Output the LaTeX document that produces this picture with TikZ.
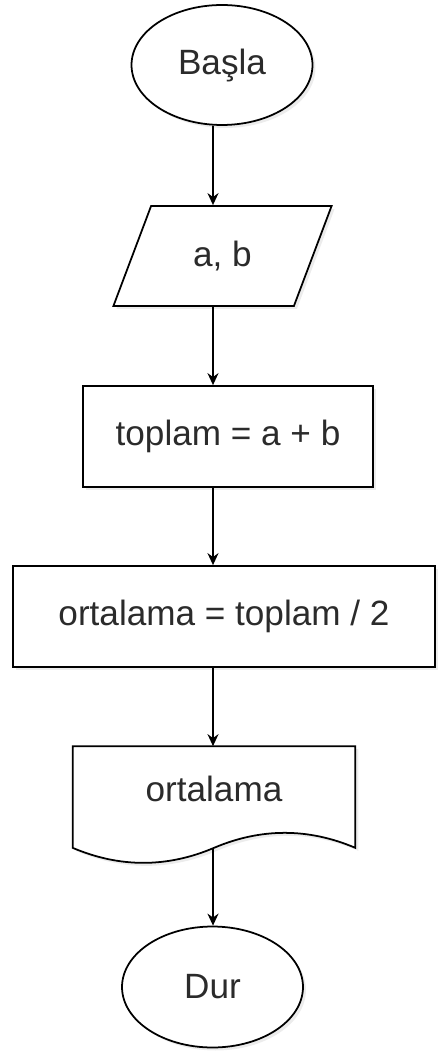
\documentclass[tikz,border=0pt]{standalone}
\usepackage{fontspec}
\setmainfont{Liberation Sans}
\usetikzlibrary{shapes.geometric,arrows.meta,shadows}
\definecolor{ink}{HTML}{2B2B2B}

\tikzset{
	chartbox/.style = {draw, line width=1pt, fill=white, text=ink,
		font=\fontsize{20}{24}\selectfont,
		drop shadow={opacity=0.15, shadow xshift=0.06cm, shadow yshift=-0.06cm}},
	term/.style = {chartbox, ellipse, minimum width=3.62cm},
	io/.style = {chartbox, trapezium, trapezium left angle=66, trapezium right angle=114,
		trapezium stretches=true, minimum width=4.38cm, minimum height=2cm},
	proc/.style = {chartbox, rectangle, minimum height=2.02cm},
	arr/.style = {-{Stealth[length=0.24cm, width=0.22cm]}, line width=1pt}
}

\begin{document}
\begin{tikzpicture}[x=0.02cm, y=-0.02cm]
			\useasboundingbox (0,0) rectangle (438,1053);
			\coordinate (axis) at (213,0);
			
			\node[term, minimum height=2.4cm] (start) at (222,65) {Başla};
			\node[io] (in) at (222.5,256) {a, b};
			\node[proc, minimum width=5.8cm] (sum) at (228,436.5) {toplam = a + b};
			\node[proc, minimum width=8.44cm] (avg) at (224,616.5) {ortalama = toplam / 2};
			
			% document shape, drawn round its node
			\node[minimum width=5.64cm, minimum height=2.02cm] (out) at (214,797) {};
			\draw[line width=1pt, fill=white,
				drop shadow={opacity=0.15, shadow xshift=0.06cm, shadow yshift=-0.06cm}]
				(out.north west) -- (out.north east) -- (out.south east)
				.. controls +(-47,-20) and +(47,-20) .. (out.south)
				.. controls +(-47,20) and +(47,20) .. (out.south west) -- cycle;
			\node[text=ink, font=\fontsize{20}{24}\selectfont, text depth=0.32cm] at (out) {ortalama};
			
			\node[term, minimum height=2.42cm] (stop) at (212.5,987) {Dur};
			
			\draw[arr] (start.south -| axis) -- (in.north -| axis);
			\draw[arr] (in.south -| axis) -- (sum.north -| axis);
			\draw[arr] (sum.south -| axis) -- (avg.north -| axis);
			\draw[arr] (avg.south -| axis) -- (out.north -| axis);
			\draw[arr] (out.south -| axis) -- (stop.north -| axis);
			
		\end{tikzpicture}
\end{document}
